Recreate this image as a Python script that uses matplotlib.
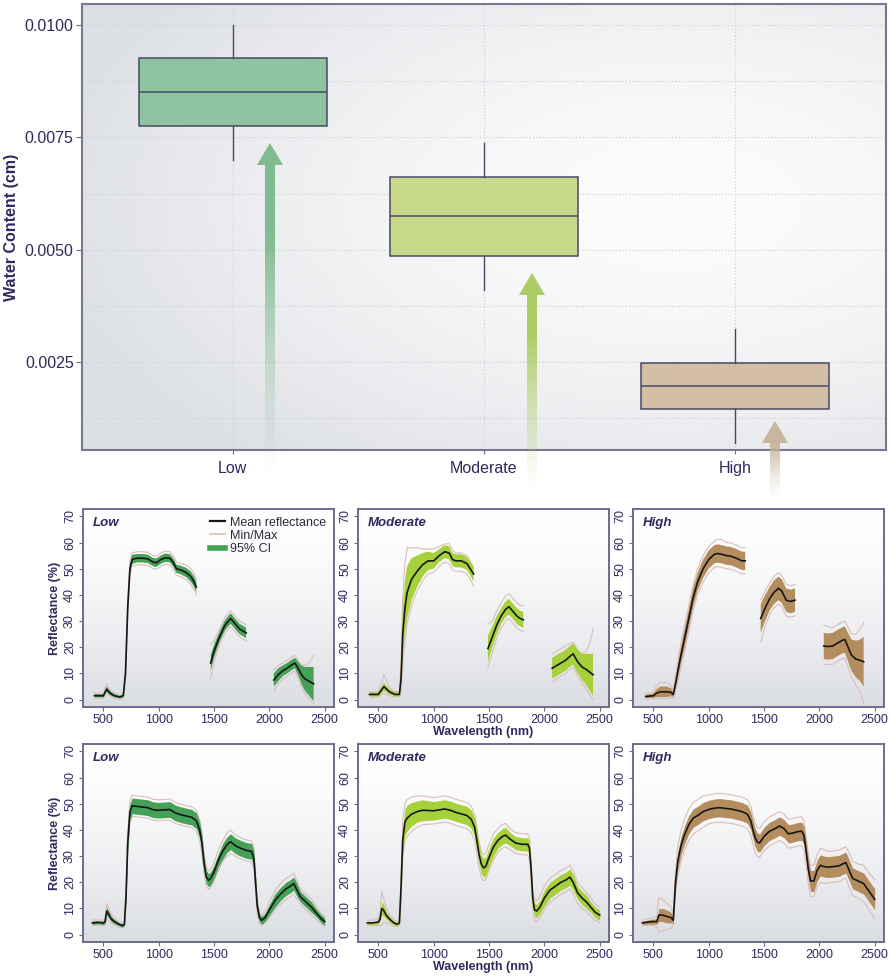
import numpy as np
import matplotlib
matplotlib.use('Agg')
import matplotlib.pyplot as plt
from matplotlib.patches import Polygon
from matplotlib.lines import Line2D
from matplotlib.colors import to_rgb

plt.rcParams['font.family'] = ['Liberation Sans', 'DejaVu Sans']

nan = np.nan
NAVY = '#2e2a5e'
FRAME = '#6e6a8c'
MM_COLOR = '#dcbdb6'

# ---- box plot summary: water content (cm) per class ----
classes = ['Low', 'Moderate', 'High']
box_whislo = [0.0070, 0.00411, 0.00070]
box_q1 = [0.00775, 0.00487, 0.00145]
box_med = [0.00851, 0.00574, 0.00197]
box_q3 = [0.00927, 0.00661, 0.00248]
box_whishi = [0.0100, 0.00737, 0.00323]
box_colors = ['#8dc39f', '#c9d98b', '#d3bfa6']
arrow_colors = ['#7cb98c', '#a9cb5c', '#c7b39b']
band_colors = ['#45a158', '#a6d13a', '#b38d5e']

# ---- row 1 spectra (water bands removed) ----
r1_low_wl = [420, 500, 530, 560, 600, 650, 680, 700, 720, 740, 760, 800, 850, 900, 950, 980, 1020, 1060, 1100, 1130, 1160, 1200, 1250, 1290, 1320, 1340, nan,
             1470, 1500, 1550, 1600, 1650, 1690, 1730, 1790, nan,
             2040, 2080, 2120, 2160, 2200, 2230, 2260, 2290, 2320, 2360, 2400]
r1_low_mean = [1.5, 1.5, 4.0, 2.5, 1.5, 1.0, 1.5, 10, 35, 50, 53.5, 54, 54, 53.8, 52.5, 52.3, 53.5, 54.2, 54, 52.5, 50, 49.5, 48.5, 47, 45, 43, nan,
               14, 18.5, 24, 28.5, 31, 29, 27, 25.5, nan,
               7.5, 9.5, 11, 12, 13.2, 14, 12, 9.5, 8, 7, 6]
r1_low_ci = [0.6, 0.6, 1.0, 0.8, 0.6, 0.5, 0.6, 1.5, 2, 2, 1.8, 1.6, 1.6, 1.6, 1.6, 1.6, 1.6, 1.6, 1.6, 1.6, 1.6, 1.6, 1.8, 2, 2, 2, nan,
             3, 2.5, 2, 2, 2, 2, 2, 2, nan,
             2.5, 2.5, 2, 2, 2, 2, 2.5, 3.5, 4.5, 5.5, 6.5]
r1_low_lo = [1, 1, 1.5, 1.2, 1, 1, 1, 2.5, 3, 3, 2.5, 2.5, 2.5, 2.5, 2.5, 2.5, 2.5, 2.5, 2.5, 2.5, 2.5, 2.5, 2.8, 3, 3, 3, nan,
             6, 4, 3, 3, 3, 3, 3, 3, nan,
             4, 3.5, 3, 3, 3, 3, 3.5, 4.5, 5.5, 6.5, 7.5]
r1_low_hi = [1, 1, 2, 1.2, 1, 1, 1, 2.5, 3, 3, 2.5, 2.5, 2.5, 2.5, 2.5, 2.5, 2.5, 2.5, 2.5, 2.5, 2.5, 2.5, 2.8, 3, 3, 3, nan,
             7, 4, 3, 3, 3, 3, 3, 3, nan,
             4, 3.5, 3, 3, 3, 3, 2.5, 4, 5, 7, 11]

r1_mod_wl = [420, 500, 550, 600, 650, 690, 705, 720, 740, 760, 800, 850, 900, 950, 1000, 1050, 1100, 1140, 1170, 1200, 1250, 1300, 1330, 1360, nan,
             1490, 1530, 1570, 1610, 1650, 1680, 1710, 1750, 1780, 1810, nan,
             2070, 2110, 2150, 2190, 2230, 2260, 2300, 2340, 2380, 2410, 2440]
r1_mod_mean = [2, 2, 5, 3, 2, 2, 8, 25, 35, 41, 46, 49, 51.5, 53, 53, 55, 56.5, 56, 53.5, 53, 53, 52, 50, 48, nan,
               19.5, 24, 28.5, 32, 34.5, 35.5, 34, 32, 31, 30.5, nan,
               12, 13, 14, 15, 16.5, 17.5, 14.5, 12.5, 11.5, 10.5, 9.5]
r1_mod_ci = [0.8, 0.8, 1.5, 1, 0.8, 0.8, 4, 9, 10, 10, 8, 6, 4.5, 3.5, 3, 2.5, 2.5, 2.5, 2.5, 2.5, 2.5, 2.5, 2.5, 3, nan,
             5, 4, 3.5, 3, 3, 3, 3, 3, 3, 3, nan,
             4, 4, 4, 4, 4, 4, 4.5, 5, 6, 7, 8]
r1_mod_lo = [1, 1, 2.5, 1.5, 1, 1, 6, 12, 13, 12, 10, 7.5, 6, 5, 4.5, 4, 4, 4, 4, 4, 4, 4, 4, 4.5, nan,
             7, 6, 5, 4.5, 4.5, 4.5, 4.5, 4.5, 4.5, 4.5, nan,
             5.5, 5, 5, 5, 5, 5, 5.5, 6, 7.5, 8.5, 9.5]
r1_mod_hi = [1, 1, 4.5, 1.5, 1, 1, 6, 14, 17, 17, 12, 9, 6, 4.5, 4.5, 3.5, 3, 3.5, 3.5, 3, 3, 3, 3, 2, nan,
             9.5, 6, 5.5, 5, 5, 5, 5, 5, 5, 5.5, nan,
             5.5, 5.5, 5.5, 5.5, 5, 4.5, 4.5, 5, 7, 11, 17.5]

r1_high_wl = [430, 500, 530, 560, 620, 660, 680, 700, 740, 780, 820, 860, 900, 950, 1000, 1050, 1080, 1120, 1160, 1200, 1250, 1300, 1330, nan,
              1470, 1510, 1550, 1590, 1630, 1660, 1700, 1740, 1780, nan,
              2040, 2080, 2120, 2160, 2200, 2230, 2260, 2290, 2330, 2370, 2400]
r1_high_mean = [1.2, 1.5, 2.5, 3, 3, 2.8, 2, 6, 15, 23, 31, 39, 45, 50, 53.5, 55.5, 55.8, 55.5, 55, 54.8, 54, 53, 53, nan,
                31, 35, 38.5, 41, 42.5, 41.5, 38, 37.5, 38, nan,
                20.5, 20.3, 20.5, 21.5, 22.5, 23, 20, 17, 15.5, 15, 14.5]
r1_high_ci = [0.6, 0.8, 1.5, 2, 2, 1.5, 1, 2, 3, 3.5, 3.5, 3.5, 3.5, 3.5, 3.5, 3.5, 3.5, 3.5, 3.5, 3.5, 3.5, 3.5, 3.5, nan,
              5.5, 5, 4.5, 4.5, 4.5, 4.5, 4.5, 4.5, 4.5, nan,
              5, 5, 5, 5, 5, 5, 5.5, 6, 7, 8, 9.5]
r1_high_lo = [1, 1.2, 2, 2.5, 2.5, 2, 1.5, 3, 4.5, 5, 5, 5, 5, 5, 5, 5, 5, 5, 5, 5, 5, 5, 5, nan,
              9, 7, 6, 6, 6, 6, 6, 6, 6, nan,
              7, 7, 7, 7, 7, 7, 7.5, 8.5, 10, 12, 16]
r1_high_hi = [1, 1.2, 3, 3.5, 3.5, 2.5, 1.5, 3, 4.5, 5, 5, 5, 5, 5, 5, 5, 5.5, 5.5, 5, 5, 5, 5, 5, nan,
              7, 6.5, 6, 6, 6, 6, 6, 6, 6, nan,
              8, 7.5, 7, 7, 7, 7, 7.5, 8, 9.5, 12, 15]

# ---- row 2 spectra (full range) ----
r2_low_wl = [400, 450, 500, 515, 530, 545, 570, 600, 640, 670, 690, 705, 720, 740, 760, 800,
             900, 950, 1000, 1100, 1150, 1200, 1300, 1340, 1370, 1390, 1410, 1430, 1450, 1470,
             1500, 1540, 1580, 1620, 1650, 1690, 1740, 1790, 1840, 1860, 1875, 1890, 1910, 1930, 1960,
             2000, 2050, 2100, 2150, 2190, 2220, 2250, 2280, 2330, 2380, 2430, 2470, 2500]
r2_low_mean = [4.5, 4.7, 4.5, 5, 9, 8, 6, 5, 4, 3.5, 4, 15, 35, 47, 49.2, 49,
               48.5, 47.7, 47.5, 47.8, 46.5, 45.8, 44.8, 43.5, 40, 35, 27, 22, 20.8, 21.5,
               24, 28.5, 32, 34.5, 35.5, 34, 33, 32.2, 31.8, 29, 20, 11, 6.5, 5.5, 6.5,
               9.5, 13, 15.5, 17.5, 18.5, 19.5, 17, 14.5, 12.5, 10.5, 8, 6, 5]
r2_low_ci = [0.6, 0.6, 0.6, 0.8, 1.5, 1.3, 1, 0.8, 0.6, 0.6, 0.6, 2, 3, 3, 3, 3,
             3, 3, 3, 3, 3, 3, 3, 3, 3, 3, 3, 2.5, 2.5, 2.5,
             2.5, 2.5, 3, 3, 3, 3, 3, 3, 3, 3, 2.5, 2, 1.5, 1.5, 1.5,
             2, 2.5, 2.5, 2.5, 2.5, 2.5, 2.5, 2, 2, 2, 1.5, 1.5, 1.5]
r2_low_mm = [1, 1, 1, 1.5, 3, 2.5, 1.8, 1.2, 1, 1, 1, 3, 4, 4, 4, 4,
             4, 4, 4, 4, 4, 4, 4, 4, 4, 4, 4, 3.5, 3.5, 3.5,
             3.5, 4, 4, 4.5, 4.5, 4, 4, 4, 4, 4, 3.5, 3, 2, 2, 2,
             3, 3.5, 4, 4, 4, 4, 3.5, 3, 3, 3, 2.5, 2, 2]

r2_mod_wl = [400, 450, 500, 515, 530, 545, 570, 600, 640, 670, 690, 705, 720, 740, 760, 800,
             850, 900, 1000, 1100, 1150, 1200, 1300, 1340, 1370, 1390, 1410, 1430, 1450, 1470,
             1500, 1540, 1580, 1620, 1650, 1690, 1740, 1800, 1850, 1865, 1880, 1895, 1910, 1930, 1960,
             2000, 2050, 2100, 2150, 2200, 2230, 2260, 2300, 2340, 2380, 2420, 2460, 2500]
r2_mod_mean = [4.5, 4.5, 4.8, 6, 10, 9.5, 7.5, 6, 4.5, 4, 4.5, 18, 36, 43, 44.5, 46,
               47, 47.5, 47.3, 48, 47.5, 46.7, 45.5, 44, 41, 36, 30.5, 27, 25.5, 26,
               29.5, 33.5, 36, 37.5, 38, 36.5, 35, 34.5, 34.5, 33, 25, 14, 9.5, 9, 10.5,
               14, 17, 18.5, 20, 21, 22, 20, 16, 14, 12.5, 10.5, 8.5, 7.5]
r2_mod_ci = [0.6, 0.6, 0.8, 1, 2.5, 2.3, 1.5, 1, 0.8, 0.6, 0.6, 3, 5, 5, 5, 4.5,
             4, 4, 3.5, 3.5, 3.5, 3.5, 3.5, 3.5, 3.5, 3.5, 3.5, 3.5, 3.5, 3.5,
             3.5, 3.5, 3, 3, 3, 2.5, 2.5, 2.5, 2.5, 2.5, 2.5, 2.5, 2.5, 2.5, 2.5,
             3, 3, 3, 3, 3, 3, 3, 2.5, 2.5, 2.5, 2, 2, 2]
r2_mod_mm = [1, 1, 1.2, 2.5, 6.5, 5, 3, 1.8, 1.2, 1, 1, 4, 7, 7, 7, 6.5,
             6, 5.5, 5, 5, 5, 5, 5, 5, 5, 5, 5, 5, 5, 5,
             5, 5, 4.5, 4.5, 4.5, 4, 4, 4, 4, 4, 4, 4, 4, 4, 4,
             4.5, 4.5, 4.5, 4.5, 4.5, 4.5, 4.5, 4, 4, 3.5, 3.5, 3, 3]

r2_high_wl = [400, 450, 500, 530, 550, 580, 620, 660, 680, 700, 720, 750, 780, 820, 860, 900, 950, 1000,
              1050, 1100, 1150, 1200, 1250, 1300, 1350, 1380, 1400, 1420, 1440, 1460, 1500, 1550, 1600, 1640,
              1680, 1720, 1760, 1800, 1840, 1860, 1880, 1900, 1920, 1950, 1980, 2010, 2040, 2080, 2130, 2180,
              2210, 2240, 2270, 2300, 2350, 2400, 2450, 2500]
r2_high_mean = [4.5, 4.8, 5, 5, 7.5, 7.5, 7, 6.5, 5.5, 20, 28, 34, 38, 42, 44.5, 45.5, 47, 47.8,
                48.3, 48.5, 48.2, 48, 47.5, 47, 46, 43.5, 40, 37, 35.3, 35, 37.5, 39.5, 40.5, 41.5,
                40.5, 38.5, 38.8, 39.3, 39.5, 38, 32, 25, 20.5, 20.5, 24.5, 26.5, 26, 25.8, 26, 26.3,
                27, 27.5, 24.5, 21.5, 20.5, 19.5, 16.5, 13.5]
r2_high_ci = [0.6, 0.8, 1, 1, 2.5, 2.5, 2.5, 2, 1, 3, 3.5, 3.5, 3.5, 3.5, 3.5, 3.5, 3.5, 3.5,
              3.5, 3.5, 3.5, 3.5, 3.5, 3.5, 3.5, 3.5, 3.5, 3.5, 3.5, 3.5, 3.5, 3.5, 3.5, 3.5,
              3.5, 3.5, 3.5, 3.5, 3.5, 3.5, 3.5, 4, 4, 4, 4, 4, 4, 4, 4, 4,
              4, 4, 4, 4, 4, 4, 4, 4]
r2_high_mm = [1, 1.2, 1.5, 2, 6.5, 6, 5, 4, 2, 4.5, 5.5, 6, 6, 6, 6, 6, 6, 5.5,
              5.5, 5.5, 5.5, 5.5, 5.5, 5.5, 5.5, 5.5, 5.5, 5.5, 5.5, 5.5, 5.5, 5.5, 5.5, 5.5,
              5.5, 5.5, 5.5, 5.5, 5.5, 5.5, 5.5, 6, 6, 6, 6, 6.5, 6.5, 6, 6, 6,
              6, 6, 6.5, 6.5, 6.5, 7, 7, 7.5]

W, H = 891, 976
fig = plt.figure(figsize=(W / 100, H / 100), dpi=100)
fig.patch.set_facecolor('white')

# ---------------- top box plot ----------------
ax = fig.add_axes([82 / W, 1 - 450 / H, 804 / W, 446 / H])
yy, xx = np.mgrid[0:1:200j, 0:1:300j]
d = np.sqrt(((xx - 0.74) / 0.95) ** 2 + ((yy - 0.45) / 0.9) ** 2)
g = np.clip(d / 0.85, 0, 1) ** 1.6
c_in = np.array(to_rgb('#fcfcfc'))
c_out = np.array(to_rgb('#dcdfe4'))
bg = c_in * (1 - g[..., None]) + c_out * g[..., None]
ax.imshow(bg, extent=(0, 1, 0, 1), transform=ax.transAxes, aspect='auto', zorder=0)

stats = []
for i in range(3):
    stats.append(dict(med=box_med[i], q1=box_q1[i], q3=box_q3[i],
                      whislo=box_whislo[i], whishi=box_whishi[i], label=classes[i]))
bp = ax.bxp(stats, positions=[1, 2, 3], widths=0.75, patch_artist=True,
            showfliers=False, showcaps=False,
            boxprops=dict(edgecolor='#4a4866', linewidth=1.1),
            medianprops=dict(color='#4a4866', linewidth=1.1),
            whiskerprops=dict(color='#4a4866', linewidth=1.0), zorder=3)
for patch, col in zip(bp['boxes'], box_colors):
    patch.set_facecolor(col)

ax.set_xlim(0.4, 3.6)
ax.set_ylim(0.00054, 0.01047)
ax.set_yticks([0.0025, 0.0050, 0.0075, 0.0100])
ax.set_yticklabels(['0.0025', '0.0050', '0.0075', '0.0100'])
ax.set_yticks([0.00125, 0.00375, 0.00625, 0.00875], minor=True)
ax.set_xticks([1, 2, 3])
ax.set_xticklabels(classes)
ax.grid(which='both', axis='y', ls=':', color='#cfd2d8', lw=0.9, zorder=1)
ax.grid(which='major', axis='x', ls=':', color='#cfd2d8', lw=0.9, zorder=1)
ax.tick_params(axis='y', which='major', colors=FRAME, labelcolor=NAVY, length=4, labelsize=11.5, pad=2)
ax.tick_params(axis='y', which='minor', length=0)
ax.tick_params(axis='x', colors=FRAME, labelcolor=NAVY, length=3, labelsize=11.5, pad=5)
ax.set_ylabel('Water Content (cm)', color=NAVY, fontsize=11.5, fontweight='bold', labelpad=4)
for s in ax.spines.values():
    s.set_color('#7a7590')
    s.set_linewidth(1.5)

# ---------------- gradient arrows (figure pixel overlay) ----------------
ov = fig.add_axes([0, 0, 1, 1], zorder=5)
ov.patch.set_alpha(0)
ov.axis('off')


def grad_arrow(axo, xc, y_tip, y_end, color, head_w=26, head_h=22, shaft_w=10):
    n = 300
    t = np.linspace(0, 1, n)
    alpha = np.clip((1 - t) / 0.72, 0, 1) ** 1.4 * 0.95
    img = np.zeros((n, 1, 4))
    img[:, 0, :3] = to_rgb(color)
    img[:, 0, 3] = alpha
    im = axo.imshow(img, extent=(xc - head_w / 2, xc + head_w / 2, y_end, y_tip),
                    aspect='auto', origin='upper', interpolation='bilinear')
    pts = [(xc, y_tip), (xc + head_w / 2, y_tip + head_h), (xc + shaft_w / 2, y_tip + head_h),
           (xc + shaft_w / 2, y_end), (xc - shaft_w / 2, y_end), (xc - shaft_w / 2, y_tip + head_h),
           (xc - head_w / 2, y_tip + head_h)]
    poly = Polygon(pts, closed=True, fc='none', ec='none')
    axo.add_patch(poly)
    im.set_clip_path(poly)


grad_arrow(ov, 270, 143, 480, arrow_colors[0])
grad_arrow(ov, 532, 273, 495, arrow_colors[1])
grad_arrow(ov, 775, 421, 500, arrow_colors[2])
ov.set_xlim(0, W)
ov.set_ylim(H, 0)

# ---------------- spectral panels ----------------
rows = [
    [(r1_low_wl, r1_low_mean, r1_low_ci, r1_low_lo, r1_low_hi),
     (r1_mod_wl, r1_mod_mean, r1_mod_ci, r1_mod_lo, r1_mod_hi),
     (r1_high_wl, r1_high_mean, r1_high_ci, r1_high_lo, r1_high_hi)],
    [(r2_low_wl, r2_low_mean, r2_low_ci, r2_low_mm, r2_low_mm),
     (r2_mod_wl, r2_mod_mean, r2_mod_ci, r2_mod_mm, r2_mod_mm),
     (r2_high_wl, r2_high_mean, r2_high_ci, r2_high_mm, r2_high_mm)],
]
col_left = [83, 358, 633]
row_top = [509, 744]
pw, ph = 251, 198

vgrad = np.linspace(0, 1, 100)[:, None] ** 1.5
top_c = np.array(to_rgb('#ffffff'))
bot_c = np.array(to_rgb('#dadde3'))
panel_bg = top_c * (1 - vgrad[..., None]) + bot_c * vgrad[..., None]

for r, row in enumerate(rows):
    for c, (wl, mean, ci, lo, hi) in enumerate(row):
        pax = fig.add_axes([col_left[c] / W, 1 - (row_top[r] + ph) / H, pw / W, ph / H])
        pax.imshow(panel_bg, extent=(0, 1, 0, 1), transform=pax.transAxes, aspect='auto',
                   origin='upper', zorder=0)
        wl = np.array(wl, float)
        mean = np.array(mean, float)
        ci = np.array(ci, float)
        lo = np.array(lo, float)
        hi = np.array(hi, float)
        pax.plot(wl, mean - lo, color=MM_COLOR, lw=0.8, zorder=2)
        pax.plot(wl, mean + hi, color=MM_COLOR, lw=0.8, zorder=2)
        pax.fill_between(wl, mean - ci, mean + ci, color=band_colors[c], lw=0, zorder=3)
        pax.plot(wl, mean, color='#161616', lw=1.2, zorder=4)
        pax.set_xlim(316, 2584)
        pax.set_ylim(-2.8, 72.8)
        pax.set_xticks([500, 1000, 1500, 2000, 2500])
        pax.set_yticks(range(0, 71, 10))
        pax.tick_params(colors=FRAME, labelcolor=NAVY, labelsize=9, length=3, pad=2)
        for lab in pax.get_yticklabels():
            lab.set_rotation(90)
            lab.set_va('center')
        for s in pax.spines.values():
            s.set_color(FRAME)
            s.set_linewidth(1.4)
        pax.text(0.04, 0.96, classes[c], transform=pax.transAxes, ha='left', va='top',
                 fontsize=9.5, fontweight='bold', fontstyle='italic', color=NAVY, zorder=6)
        if c == 0:
            pax.set_ylabel('Reflectance (%)', color=NAVY, fontsize=9, fontweight='bold', labelpad=2)
        if c == 1:
            pax.set_xlabel('Wavelength (nm)', color=NAVY, fontsize=9, fontweight='bold', labelpad=0)
        if r == 0 and c == 0:
            handles = [Line2D([], [], color='#161616', lw=1.6),
                       Line2D([], [], color=MM_COLOR, lw=1.2),
                       Line2D([], [], color=band_colors[0], lw=4)]
            leg = pax.legend(handles, ['Mean reflectance', 'Min/Max', '95% CI'], loc='upper right',
                             frameon=False, fontsize=9, handlelength=1.2, handletextpad=0.4,
                             labelspacing=0.1, borderaxespad=0.2)
            for t in leg.get_texts():
                t.set_color('#2a2a3a')

fig.savefig('out.png', dpi=100, facecolor='white')
